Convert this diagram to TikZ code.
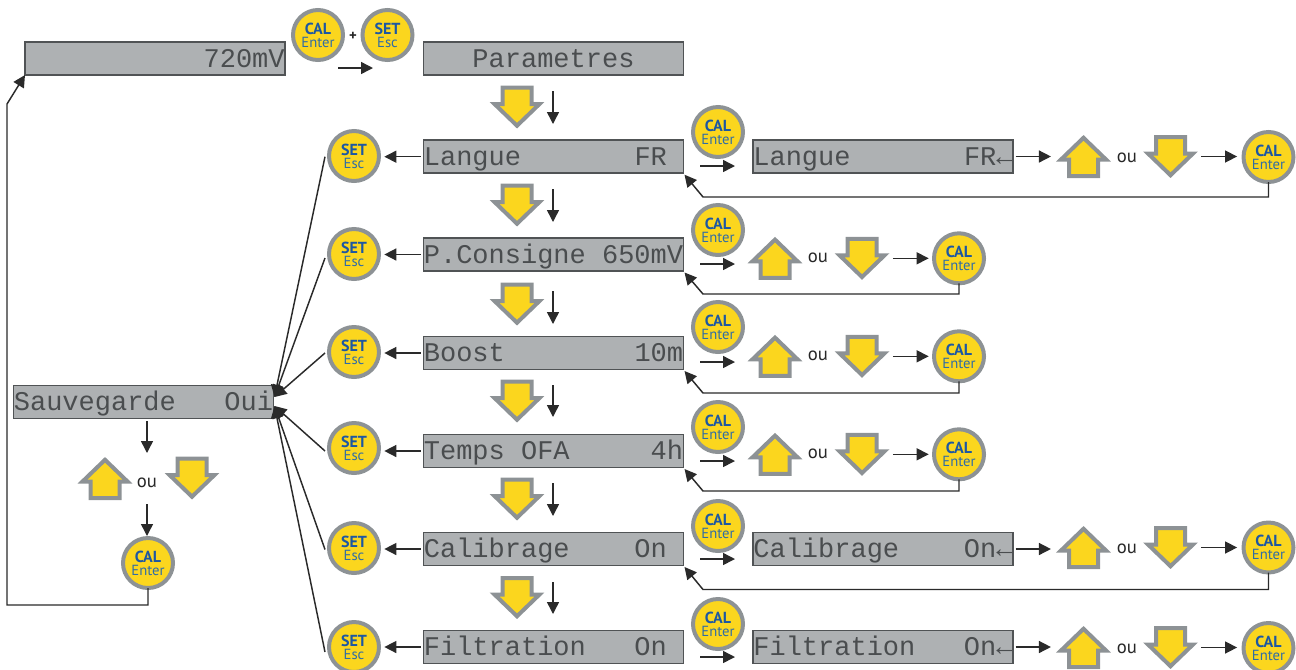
\documentclass[tikz,border=0pt]{standalone}
\usepackage{fontspec}
\setmainfont{PT Sans}
\newfontfamily\lcdfont{Liberation Mono}
\usetikzlibrary{arrows.meta,calc}
\definecolor{btnyellow}{HTML}{FBD61E}
\definecolor{btngray}{HTML}{8D9295}
\definecolor{lcdfill}{HTML}{AEB1B3}
\definecolor{lcdline}{HTML}{505355}
\definecolor{lcdtext}{HTML}{4A4D4F}
\definecolor{btnblue}{HTML}{1C57A3}
\definecolor{btnblue2}{HTML}{2F6CA6}
\definecolor{linecol}{HTML}{2A2A2A}
\newcommand{\btntext}[2]{{\color{btnblue}\bfseries\fontsize{12}{9.75}\selectfont #1}\\{\color{btnblue2}#2}}
\tikzset{
  lcd/.style={draw=lcdline,fill=lcdfill,line width=1.2pt,minimum width=195pt,minimum height=24.75pt,
    inner sep=0pt,outer sep=0pt,text=lcdtext,text height=13.4pt,text depth=0pt,
    font=\lcdfont\fontsize{20.25}{22}\selectfont},
  btn/.style={circle,draw=btngray,fill=btnyellow,line width=3pt,minimum size=37.5pt,inner sep=0pt,outer sep=0pt,
    align=center,font=\fontsize{11}{9.75}\selectfont},
  ghost/.style={rectangle,minimum width=38.25pt,minimum height=32.25pt,inner sep=0pt,outer sep=0pt},
  arrowfill/.style={draw=btngray,fill=btnyellow,line width=3pt,line join=miter,miter limit=10},
  orword/.style={font=\fontsize{14}{14}\selectfont,text=black!85,inner sep=0pt},
  conn/.style={draw=linecol,line width=1.1pt,-{Triangle[length=9pt,width=9pt]}},
}
\newcommand{\uparrownode}[3]{%
  \node[ghost] (#1) at (#2,#3) {};
  \draw[arrowfill] ($(#1)+(0,-18.7)$) -- ($(#1)+(22.5,3)$) -- ($(#1)+(14.5,3)$) -- ($(#1)+(14.5,19.5)$)
    -- ($(#1)+(-14.5,19.5)$) -- ($(#1)+(-14.5,3)$) -- ($(#1)+(-22.5,3)$) -- cycle;}
\newcommand{\downarrownode}[3]{%
  \node[ghost] (#1) at (#2,#3) {};
  \draw[arrowfill] ($(#1)+(0,18.7)$) -- ($(#1)+(22.5,-3)$) -- ($(#1)+(14.5,-3)$) -- ($(#1)+(14.5,-19.5)$)
    -- ($(#1)+(-14.5,-19.5)$) -- ($(#1)+(-14.5,-3)$) -- ($(#1)+(-22.5,-3)$) -- cycle;}
\begin{document}
\begin{tikzpicture}[x=0.75pt,y=-0.75pt]
\useasboundingbox (0,0) rectangle (1296,669);
% top row
\node[lcd] (disp) at (155,58.5) {~~~~~~~~~~~720mV};
\node[lcd] (param) at (553.5,58.5) {~~~Parametres~~~\null};
\node[btn] (topcal) at (318,35) {\btntext{CAL}{Enter}};
\node[btn] (topset) at (387.5,35) {\btntext{SET}{Esc}};
\node[inner sep=0pt,font=\bfseries\fontsize{11}{12}\selectfont,text=black!85] (plus) at (353,36) {+};
\coordinate (ta) at (338,68);
\coordinate (tb) at (373,68);
\draw[conn] (ta) -- (tb);
% menu column
\node[lcd] (r1) at (553.5,156.7) {Langue~~~~~~~FR~\null};
\node[lcd] (r2) at (553.5,254.5) {P.Consigne~650mV};
\node[lcd] (r3) at (553.5,353) {Boost~~~~~~~~10m};
\node[lcd] (r4) at (553.5,451) {Temps~OFA~~~~~4h};
\node[lcd] (r5) at (553.5,549) {Calibrage~~~~On~\null};
\node[lcd] (r6) at (553.5,647) {Filtration~~~On~\null};
\node[lcd] (sv) at (143.5,402) {Sauvegarde~~~Oui};
% step arrows between rows
\foreach \n/\y/\sa/\sb in {a/107/91/124,b/205/189/222,c/304/291/324,d/401/385/417,e/499/483/516,f/597.5/582/614}{
  \downarrownode{step\n}{517}{\y}
  \coordinate (sa\n) at (553,\sa);
  \coordinate (sb\n) at (553,\sb);
  \draw[conn] (sa\n) -- (sb\n);
}
% SET buttons and links
\foreach \i/\y in {1/156,2/254,3/352,4/448,5/548,6/647}{
  \node[btn] (set\i) at (354,\y) {\btntext{SET}{Esc}};
  \draw[conn,shorten >=4pt,shorten <=2pt] (r\i.west) -- (r\i.west -| set\i.east);
}
\foreach \i/\dy/\oy in {1/-5/0,2/-5/3.5,3/-5/0,4/4/0,5/4/0.5,6/4/5}{
  \draw[conn] ($(set\i.west |- r\i.west)+(-4,\oy)$) -- ($(sv.east)+(1,\dy)$);
}
% CAL buttons next to menu rows
\foreach \i/\y/\g in {1/132/166,2/230/264,3/327/362,4/427/461,5/526/559,6/624/657}{
  \node[btn] (enter\i) at (718,\y) {\btntext{CAL}{Enter}};
  \coordinate (ga\i) at (700,\g);
  \coordinate (gb\i) at (735,\g);
  \draw[conn] (ga\i) -- (gb\i);
}
% short rows
\foreach \i/\y in {2/258.3,3/356.3,4/454.3}{
  \uparrownode{up\i}{775}{\y}
  \node[orword] (ou\i) at (818,\y) {ou};
  \downarrownode{dn\i}{862}{\y}
  \node[btn] (ok\i) at (959,\y) {\btntext{CAL}{Enter}};
  \draw[conn,shorten >=4pt,shorten <=4pt] (dn\i.east) -- (ok\i.west |- dn\i.east);
}
% long rows
\node[lcd] (long1) at (883,156.5) {Langue~~~~~~~FR←};
\node[lcd] (long5) at (883,549) {Calibrage~~~~On←};
\node[lcd] (long6) at (883,647) {Filtration~~~On←};
\foreach \i/\y/\c in {1/156.5/157,5/547.5/547.5,6/647.5/648}{
  \uparrownode{up\i}{1083.5}{\y}
  \node[orword] (ou\i) at (1127,\y+1.5) {ou};
  \downarrownode{dn\i}{1170.5}{\y}
  \node[btn] (ok\i) at (1268.5,\c) {\btntext{CAL}{Enter}};
  \draw[conn,shorten >=4.8pt,shorten <=4pt] (dn\i.east) -- (ok\i.west |- dn\i.east);
  \draw[conn,shorten <=2pt,shorten >=5.3pt] (long\i.east) -- (up\i.west |- long\i.east);
}
% return loops
\foreach \i/\d in {1/197,2/294,3/393,4/491,5/589.5}{
  \coordinate (bend\i) at (703,\d);
  \draw[conn] (ok\i.south) |- (bend\i) -- ($(r\i.south east)+(1,1.5)$);
}
% Sauvegarde branch
\uparrownode{svup}{105}{478.5}
\node[orword] (svou) at (147,483) {ou};
\downarrownode{svdn}{192}{478}
\node[btn] (svok) at (148,563) {\btntext{CAL}{Enter}};
\coordinate (va) at (147,421);
\coordinate (vb) at (147,453);
\coordinate (vc) at (147,504);
\coordinate (vd) at (147,536);
\draw[conn] (va) -- (vb);
\draw[conn] (vc) -- (vd);
\coordinate (lb) at (7,605);
\coordinate (lc) at (7,104);
\draw[conn] (svok.south) |- (lb) -- (lc) -- (disp.south west);
\end{tikzpicture}
\end{document}
